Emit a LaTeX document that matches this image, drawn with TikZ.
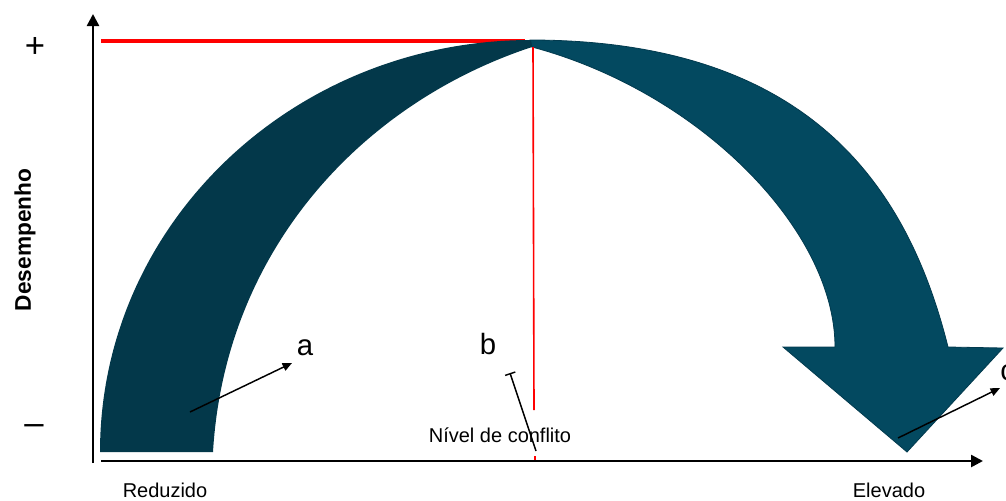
\documentclass[tikz,border=0pt]{standalone}
\usepackage{fontspec}
\setmainfont{Liberation Sans}
\usetikzlibrary{arrows.meta}
\definecolor{tealdark}{RGB}{3,56,74}
\definecolor{teallight}{RGB}{3,73,96}
\definecolor{tealedge}{RGB}{2,58,78}
\definecolor{redline}{RGB}{255,0,0}
\begin{document}
\begin{tikzpicture}[x=0.75pt,y=-0.75pt,
  axis/.style={line width=1.9pt,-{Triangle[length=9pt,width=9pt]}},
  pointer/.style={line width=1.1pt,-{Triangle[length=7pt,width=6pt]}},
  lbl/.style={font=\fontsize{15}{18}\selectfont,inner sep=0pt},
  letter/.style={font=\fontsize{22}{26}\selectfont,inner sep=0pt}]
\useasboundingbox (0,0) rectangle (1006,500);
% red reference lines
\draw[redline,line width=3.2pt] (101,41) -- (525,41);
% arrow body
\fill[tealdark] (100,452) .. controls (100,224.5) and (292.5,40) .. (531,40)
  -- (532,47) .. controls (362,103) and (225,250) .. (213,452) -- cycle;
\filldraw[fill=teallight,draw=tealedge,line width=0.6pt,line join=miter]
  (530,40) .. controls (810,40) and (908,187) .. (948,347)
  -- (1003,348) -- (907,452) -- (783,347) -- (835,347)
  .. controls (835,230) and (700,92) .. (532,47) -- cycle;
\fill[tealdark] (531,40) -- (532,47) -- (528,47) -- cycle;
\draw[redline,line width=1.2pt] (533,47) -- (534,410);
\draw[redline,line width=0.8pt] (535,456) -- (535,462);
% axes
\coordinate (yo) at (93,463);
\coordinate (yt) at (93,14);
\coordinate (xo) at (101,461);
\coordinate (xt) at (983,461);
\draw[axis] (yo) -- (yt);
\draw[axis] (xo) -- (xt);
% axis labels
\node (plus) at (35,47) {\fontsize{26}{30}\selectfont +};
\node (minus) at (34,430) {\fontsize{26}{30}\selectfont –};
\node[rotate=90,font=\fontsize{17}{20}\selectfont\bfseries] (desemp) at (25,240) {Desempenho};
\node[lbl] (red) at (165,490) {Reduzido};
\node[lbl] (elev) at (889,490) {Elevado};
\node[lbl] (nivel) at (500,435) {Nível de conflito};
% letters and pointers
\node[letter] (a) at (305,348) {a};
\node[letter] (b) at (488,344) {b};
\node[letter,anchor=west] (c) at (1000,373) {c};
\coordinate (a0) at (190,412);
\coordinate (a1) at (292,363);
\draw[pointer] (a0) -- (a1);
\coordinate (b0) at (536,451);
\coordinate (b1) at (510,373);
\draw[line width=1.1pt,-{Bar[width=8pt,line width=1.1pt]}] (b0) -- (b1);
\coordinate (c0) at (898,438);
\coordinate (c1) at (1000,388);
\draw[pointer] (c0) -- (c1);
\end{tikzpicture}
\end{document}
